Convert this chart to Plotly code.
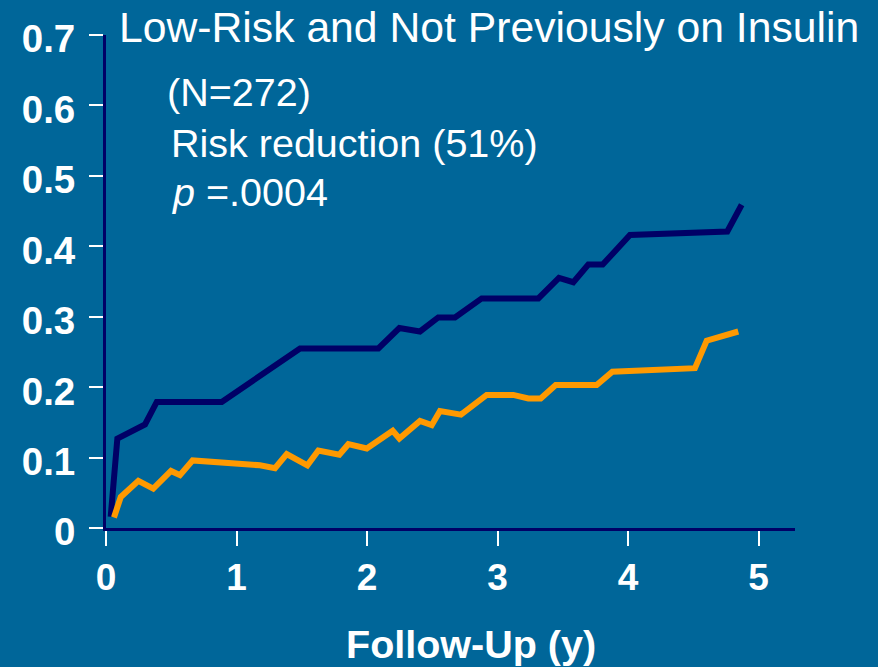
import plotly.graph_objects as go

# Data (cumulative incidence vs follow-up years)
placebo_x = [0.036, 0.087, 0.299, 0.389, 0.887, 1.487, 2.087, 2.248, 2.406, 2.546,
             2.674, 2.879, 3.313, 3.471, 3.581, 3.696, 3.806, 4.015, 4.761, 4.871]
placebo_y = [0.016, 0.127, 0.147, 0.179, 0.179, 0.255, 0.255, 0.284, 0.279, 0.299,
             0.299, 0.326, 0.326, 0.355, 0.349, 0.374, 0.374, 0.416, 0.421, 0.459]

treated_x = [0.061, 0.113, 0.248, 0.362, 0.498, 0.567, 0.664, 1.180, 1.295, 1.385,
             1.543, 1.627, 1.788, 1.857, 1.998, 2.197, 2.248, 2.406, 2.496, 2.559,
             2.720, 2.917, 3.121, 3.236, 3.331, 3.446, 3.760, 3.880, 4.513, 4.603,
             4.845]
treated_y = [0.015, 0.044, 0.067, 0.056, 0.081, 0.075, 0.096, 0.089, 0.085, 0.105,
             0.089, 0.110, 0.104, 0.119, 0.113, 0.138, 0.127, 0.152, 0.146, 0.166,
             0.161, 0.189, 0.189, 0.184, 0.184, 0.203, 0.203, 0.222, 0.227, 0.266,
             0.279]

x_ticks = [0, 1, 2, 3, 4, 5]
y_ticks = [0, 0.1, 0.2, 0.3, 0.4, 0.5, 0.6, 0.7]
y_tick_labels = ["0", "0.1", "0.2", "0.3", "0.4", "0.5", "0.6", "0.7"]

title_text = "Low-Risk and Not Previously on Insulin"
notes = ["(N=272)", "Risk reduction (51%)", "<i>p</i> =.0004"]
x_title = "Follow-Up (y)"

BG = "#006699"
NAVY = "#000066"
ORANGE = "#FF9900"
FONT = "Liberation Sans, Arial, sans-serif"

W, H = 878, 667
L, R, T, B = 106, 83, 35, 139
pw, ph = W - L - R, H - T - B


def px_x(p):
    return (p - L) / pw


def px_y(p):
    return (H - B - p) / ph


fig = go.Figure()
fig.add_trace(go.Scatter(x=placebo_x, y=placebo_y, mode="lines",
                         line=dict(color=NAVY, width=6), showlegend=False,
                         hoverinfo="skip"))
fig.add_trace(go.Scatter(x=treated_x, y=treated_y, mode="lines",
                         line=dict(color=ORANGE, width=6), showlegend=False,
                         hoverinfo="skip"))

annotations = [
    dict(text=title_text, x=px_x(117), y=px_y(27), xanchor="left", yanchor="middle",
         font=dict(size=42.7, color="white", family=FONT)),
    dict(text=notes[0], x=px_x(165), y=px_y(92), xanchor="left", yanchor="middle",
         font=dict(size=39.5, color="white", family=FONT)),
    dict(text=notes[1], x=px_x(168.5), y=px_y(143), xanchor="left", yanchor="middle",
         font=dict(size=39.5, color="white", family=FONT)),
    dict(text=notes[2], x=px_x(169.5), y=px_y(192), xanchor="left", yanchor="middle",
         font=dict(size=39.5, color="white", family=FONT)),
    dict(text="<b>" + x_title + "</b>", x=px_x(471), y=px_y(644), xanchor="center",
         yanchor="middle", font=dict(size=39.5, color="white", family=FONT)),
]
for a in annotations:
    a.update(xref="paper", yref="paper", showarrow=False)

fig.update_layout(
    width=W, height=H,
    margin=dict(l=L, r=R, t=T, b=B, pad=0),
    paper_bgcolor=BG, plot_bgcolor=BG,
    annotations=annotations,
    xaxis=dict(range=[0, (795 - L) / 130.5], tickvals=x_ticks,
               ticktext=[str(v) for v in x_ticks],
               showgrid=False, zeroline=False, showline=True, linecolor=NAVY,
               linewidth=3, ticks="outside", ticklen=15, tickwidth=2,
               tickcolor="white", ticklabelstandoff=0,
               tickfont=dict(size=37, color="white", family=FONT, weight="bold")),
    yaxis=dict(range=[0, 0.7], tickvals=y_ticks, ticktext=y_tick_labels,
               showgrid=False, zeroline=False, showline=True, linecolor=NAVY,
               linewidth=3, ticks="outside", ticklen=14, tickwidth=2,
               tickcolor="white", ticklabelstandoff=6, ticklabelshift=4,
               tickfont=dict(size=38.5, color="white", family=FONT, weight="bold")),
)

fig.write_html(
    "out.html",
    config={"displayModeBar": False, "staticPlot": True},
    post_script="document.body.style.margin='0';document.body.style.background='"
                + BG + "';",
)
